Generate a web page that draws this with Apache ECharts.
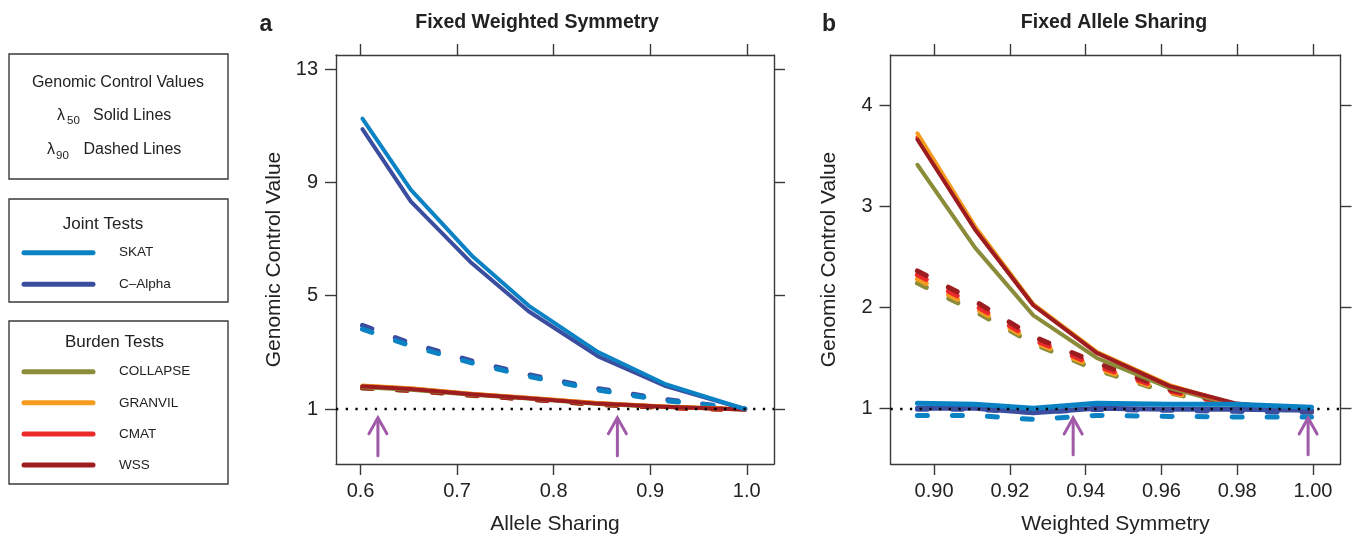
<!DOCTYPE html>
<html><head><meta charset="utf-8">
<script src="https://cdn.jsdelivr.net/npm/echarts@6/dist/echarts.min.js"></script>
<style>html,body{margin:0;padding:0;background:#fff}#c{width:1352px;height:536px}</style>
</head><body><div id="c"></div>
<script>
const FONT = '"Liberation Sans", Arial, Helvetica, sans-serif';

// ---------- Panel a: Fixed Weighted Symmetry (x = Allele Sharing) ----------
const xA = [0.602, 0.652, 0.715, 0.774, 0.846, 0.915, 0.998];
const aSKAT50     = [11.25, 8.74, 6.42, 4.65, 3.01, 1.89, 1.00];
const aCAlpha50   = [10.88, 8.33, 6.15, 4.45, 2.86, 1.82, 1.00];
const aSKAT90     = [3.82, 3.23, 2.63, 2.15, 1.67, 1.30, 1.00];
const aCAlpha90   = [3.95, 3.32, 2.70, 2.21, 1.72, 1.34, 1.00];
const aCOLLAPSE50 = [1.77, 1.68, 1.50, 1.37, 1.18, 1.07, 0.98];
const aGRANVIL50  = [1.83, 1.73, 1.54, 1.40, 1.21, 1.09, 0.99];
const aCMAT50     = [1.81, 1.72, 1.53, 1.39, 1.20, 1.08, 0.98];
const aWSS50      = [1.80, 1.71, 1.52, 1.38, 1.19, 1.08, 0.98];
const aCOLLAPSE90 = [1.74, 1.65, 1.48, 1.35, 1.16, 1.06, 0.98];
const aGRANVIL90  = [1.77, 1.67, 1.50, 1.36, 1.17, 1.06, 0.98];
const aCMAT90     = [1.76, 1.66, 1.49, 1.36, 1.17, 1.06, 0.98];
const aWSS90      = [1.75, 1.66, 1.49, 1.35, 1.16, 1.06, 0.98];
const xTicksA = [0.6, 0.7, 0.8, 0.9, 1.0];
const yTicksA = [1, 5, 9, 13];
const arrowsA = [0.618, 0.866];

// ---------- Panel b: Fixed Allele Sharing (x = Weighted Symmetry) ----------
const xB = [0.8956, 0.9108, 0.9262, 0.9429, 0.9622, 0.9794, 0.9996];
const bSKAT50     = [1.05, 1.04, 1.00, 1.05, 1.04, 1.04, 1.01];
const bCAlpha50   = [1.00, 1.00, 0.955, 1.00, 0.99, 0.99, 0.98];
const bSKAT90     = [0.93, 0.93, 0.89, 0.93, 0.92, 0.915, 0.915];
const bCAlpha90   = [0.99, 0.99, 0.96, 0.99, 0.98, 0.97, 0.96];
const bCOLLAPSE50 = [3.41, 2.59, 1.92, 1.50, 1.20, 1.03, 0.98];
const bGRANVIL50  = [3.72, 2.80, 2.03, 1.56, 1.23, 1.04, 0.98];
const bCMAT50     = [3.68, 2.78, 2.02, 1.55, 1.22, 1.04, 0.97];
const bWSS50      = [3.66, 2.77, 2.02, 1.55, 1.22, 1.05, 0.97];
const bCOLLAPSE90 = [2.24, 1.96, 1.64, 1.38, 1.15, 1.02, 0.97];
const bGRANVIL90  = [2.28, 1.99, 1.66, 1.40, 1.16, 1.02, 0.97];
const bCMAT90     = [2.32, 2.02, 1.68, 1.42, 1.17, 1.03, 0.97];
const bWSS90      = [2.36, 2.06, 1.71, 1.45, 1.185, 1.04, 0.97];
const xTicksB = [0.90, 0.92, 0.94, 0.96, 0.98, 1.00];
const yTicksB = [1, 2, 3, 4];
const arrowsB = [0.9367, 0.9987];

// ---------- Legend ----------
const jointNames  = ['SKAT', 'C\u2013Alpha'];
const burdenNames = ['COLLAPSE', 'GRANVIL', 'CMAT', 'WSS'];
const COLORS = {
  'SKAT': '#0a82c4', 'C\u2013Alpha': '#3b4d9f',
  'COLLAPSE': '#8a8c3a', 'GRANVIL': '#f59c1f', 'CMAT': '#ec2a2c', 'WSS': '#9d1c20'
};
const PURPLE = '#a05aa8';
const AX = '#3a3a3a';
const TXT = '#222';

const chart = echarts.init(document.getElementById('c'), null, {renderer: 'canvas'});

function lineSeries(gi, xs, ys, name, dashed, w) {
  return {
    type: 'line', name, xAxisIndex: gi * 2, yAxisIndex: gi * 2,
    data: xs.map((x, i) => [x, ys[i]]),
    symbol: 'none', silent: true, animation: false, z: dashed ? 2 : 3,
    lineStyle: {
      color: COLORS[name], width: w,
      type: dashed ? [10, 25] : 'solid', cap: 'round', join: 'round'
    }
  };
}
function panelSeries(gi, xs, d, jointW) {
  const order = [
    ['COLLAPSE', d.COLLAPSE90, true, 5], ['GRANVIL', d.GRANVIL90, true, 5], ['CMAT', d.CMAT90, true, 5], ['WSS', d.WSS90, true, 5],
    ['COLLAPSE', d.COLLAPSE50, false, 4], ['CMAT', d.CMAT50, false, 4], ['GRANVIL', d.GRANVIL50, false, 4], ['WSS', d.WSS50, false, 4],
    ['C\u2013Alpha', d.CAlpha90, true, 5], ['SKAT', d.SKAT90, true, 5],
    ['C\u2013Alpha', d.CAlpha50, false, jointW], ['SKAT', d.SKAT50, false, jointW]
  ];
  return order.map(o => lineSeries(gi, xs, o[1], o[0], o[2], o[3]));
}
function refLine(gi) {
  return {
    type: 'line', xAxisIndex: gi * 2, yAxisIndex: gi * 2, data: [], z: 10, silent: true, animation: false,
    markLine: {
      silent: true, symbol: 'none', animation: false, label: {show: false},
      lineStyle: {color: '#000', width: 2.3, type: [2.3, 7.4], cap: 'butt'},
      data: [{yAxis: 1}]
    }
  };
}
function arrowSeries(gi, xs, yBase, yTip) {
  return {
    type: 'custom', xAxisIndex: gi * 2, yAxisIndex: gi * 2, z: 8, silent: true, animation: false,
    data: xs.map(x => [x, yBase, yTip]),
    renderItem(params, api) {
      const b = api.coord([api.value(0), api.value(1)]);
      const t = api.coord([api.value(0), api.value(2)]);
      const st = {stroke: PURPLE, lineWidth: 3, fill: null, lineCap: 'round', lineJoin: 'miter'};
      return {type: 'group', children: [
        {type: 'line', shape: {x1: b[0], y1: b[1], x2: t[0], y2: t[1] + 1}, style: st},
        {type: 'polyline', shape: {points: [[t[0] - 9, t[1] + 16], [t[0], t[1]], [t[0] + 9, t[1] + 16]]}, style: st}
      ]};
    }
  };
}
function xAxes(gi, min, max, ticks, dec, name) {
  const line = {show: true, onZero: false, lineStyle: {color: AX, width: 1.4}};
  const tick = {show: true, inside: false, length: 11, customValues: ticks, lineStyle: {color: AX, width: 1.4}};
  return [
    {type: 'value', gridIndex: gi, position: 'bottom', min, max, name, nameLocation: 'middle', nameGap: 50,
     nameTextStyle: {fontSize: 21, color: TXT, fontFamily: FONT},
     axisLine: line, axisTick: tick,
     axisLabel: {customValues: ticks, formatter: v => v.toFixed(dec), margin: 17, fontSize: 20, color: TXT, fontFamily: FONT},
     splitLine: {show: false}},
    {type: 'value', gridIndex: gi, position: 'top', min, max,
     axisLine: line, axisTick: tick, axisLabel: {show: false}, splitLine: {show: false}}
  ];
}
function yAxes(gi, min, max, ticks, name) {
  const line = {show: true, onZero: false, lineStyle: {color: AX, width: 1.4}};
  const tick = {show: true, inside: false, length: 11, customValues: ticks, lineStyle: {color: AX, width: 1.4}};
  return [
    {type: 'value', gridIndex: gi, position: 'left', min, max, name, nameLocation: 'middle', nameGap: 51,
     nameTextStyle: {fontSize: 21, color: TXT, fontFamily: FONT},
     axisLine: line, axisTick: tick,
     axisLabel: {customValues: ticks, margin: 18, fontSize: 20, color: TXT, fontFamily: FONT},
     splitLine: {show: false}},
    {type: 'value', gridIndex: gi, position: 'right', min, max,
     axisLine: line, axisTick: tick, axisLabel: {show: false}, splitLine: {show: false}}
  ];
}

const dataA = {SKAT50: aSKAT50, CAlpha50: aCAlpha50, SKAT90: aSKAT90, CAlpha90: aCAlpha90,
  COLLAPSE50: aCOLLAPSE50, GRANVIL50: aGRANVIL50, CMAT50: aCMAT50, WSS50: aWSS50,
  COLLAPSE90: aCOLLAPSE90, GRANVIL90: aGRANVIL90, CMAT90: aCMAT90, WSS90: aWSS90};
const dataB = {SKAT50: bSKAT50, CAlpha50: bCAlpha50, SKAT90: bSKAT90, CAlpha90: bCAlpha90,
  COLLAPSE50: bCOLLAPSE50, GRANVIL50: bGRANVIL50, CMAT50: bCMAT50, WSS50: bWSS50,
  COLLAPSE90: bCOLLAPSE90, GRANVIL90: bGRANVIL90, CMAT90: bCMAT90, WSS90: bWSS90};

// ---------- legend graphics ----------
const g = [];
const boxStyle = {stroke: AX, lineWidth: 1.4, fill: null};
g.push({type: 'rect', shape: {x: 9, y: 54, width: 219, height: 125}, style: boxStyle});
g.push({type: 'rect', shape: {x: 9, y: 199, width: 219, height: 103}, style: boxStyle});
g.push({type: 'rect', shape: {x: 9, y: 321, width: 219, height: 163}, style: boxStyle});
function txt(text, x, y, size, align, weight) {
  return {type: 'text', x, y, style: {text, fill: TXT, font: (weight ? weight + ' ' : '') + size + 'px ' + FONT, textAlign: align, textVerticalAlign: 'middle'}};
}
g.push(txt('Genomic Control Values', 118, 83, 16, 'center'));
g.push(txt('\u03bb', 57, 116, 16, 'left'));
g.push(txt('50', 67, 121, 11.5, 'left'));
g.push(txt('Solid Lines', 93, 116, 16, 'left'));
g.push(txt('\u03bb', 47, 150, 16, 'left'));
g.push(txt('90', 56, 156, 11.5, 'left'));
g.push(txt('Dashed Lines', 83.5, 150, 16, 'left'));
g.push(txt('Joint Tests', 103, 224.5, 17, 'center'));
g.push(txt('Burden Tests', 114.5, 342.5, 17, 'center'));
function legendItem(name, y) {
  g.push({type: 'line', shape: {x1: 24, y1: y, x2: 93, y2: y}, style: {stroke: COLORS[name], lineWidth: 5, lineCap: 'round'}});
  g.push(txt(name, 119, y, 13.5, 'left'));
}
jointNames.forEach((n, i) => legendItem(n, 252.7 + i * 31.6));
burdenNames.forEach((n, i) => legendItem(n, 371.7 + i * 31.1));
// panel titles
g.push(txt('a', 266, 25, 23, 'center', 'bold'));
g.push(txt('b', 829, 25, 23, 'center', 'bold'));
g.push(txt('Fixed Weighted Symmetry', 537, 23, 19.5, 'center', 'bold'));
g.push(txt('Fixed Allele Sharing', 1114, 23, 19.5, 'center', 'bold'));

const option = {
  animation: false,
  backgroundColor: '#fff',
  textStyle: {fontFamily: FONT},
  grid: [
    {left: 336, top: 55, width: 438, height: 409, containLabel: false, outerBoundsMode: 'none'},
    {left: 890.5, top: 55, width: 450, height: 409, containLabel: false, outerBoundsMode: 'none'}
  ],
  xAxis: [
    ...xAxes(0, 0.5746, 1.0282, xTicksA, 1, 'Allele Sharing'),
    ...xAxes(1, 0.8885, 1.00725, xTicksB, 2, 'Weighted Symmetry')
  ],
  yAxis: [
    ...yAxes(0, -0.941, 13.494, yTicksA, 'Genomic Control Value'),
    ...yAxes(1, 0.449, 4.496, yTicksB, 'Genomic Control Value')
  ],
  series: [
    ...panelSeries(0, xA, dataA, 4),
    refLine(0),
    arrowSeries(0, arrowsA, -0.65, 0.69),
    ...panelSeries(1, xB, dataB, 5),
    refLine(1),
    arrowSeries(1, arrowsB, 0.54, 0.905)
  ],
  graphic: g
};
chart.setOption(option);
</script></body></html>
